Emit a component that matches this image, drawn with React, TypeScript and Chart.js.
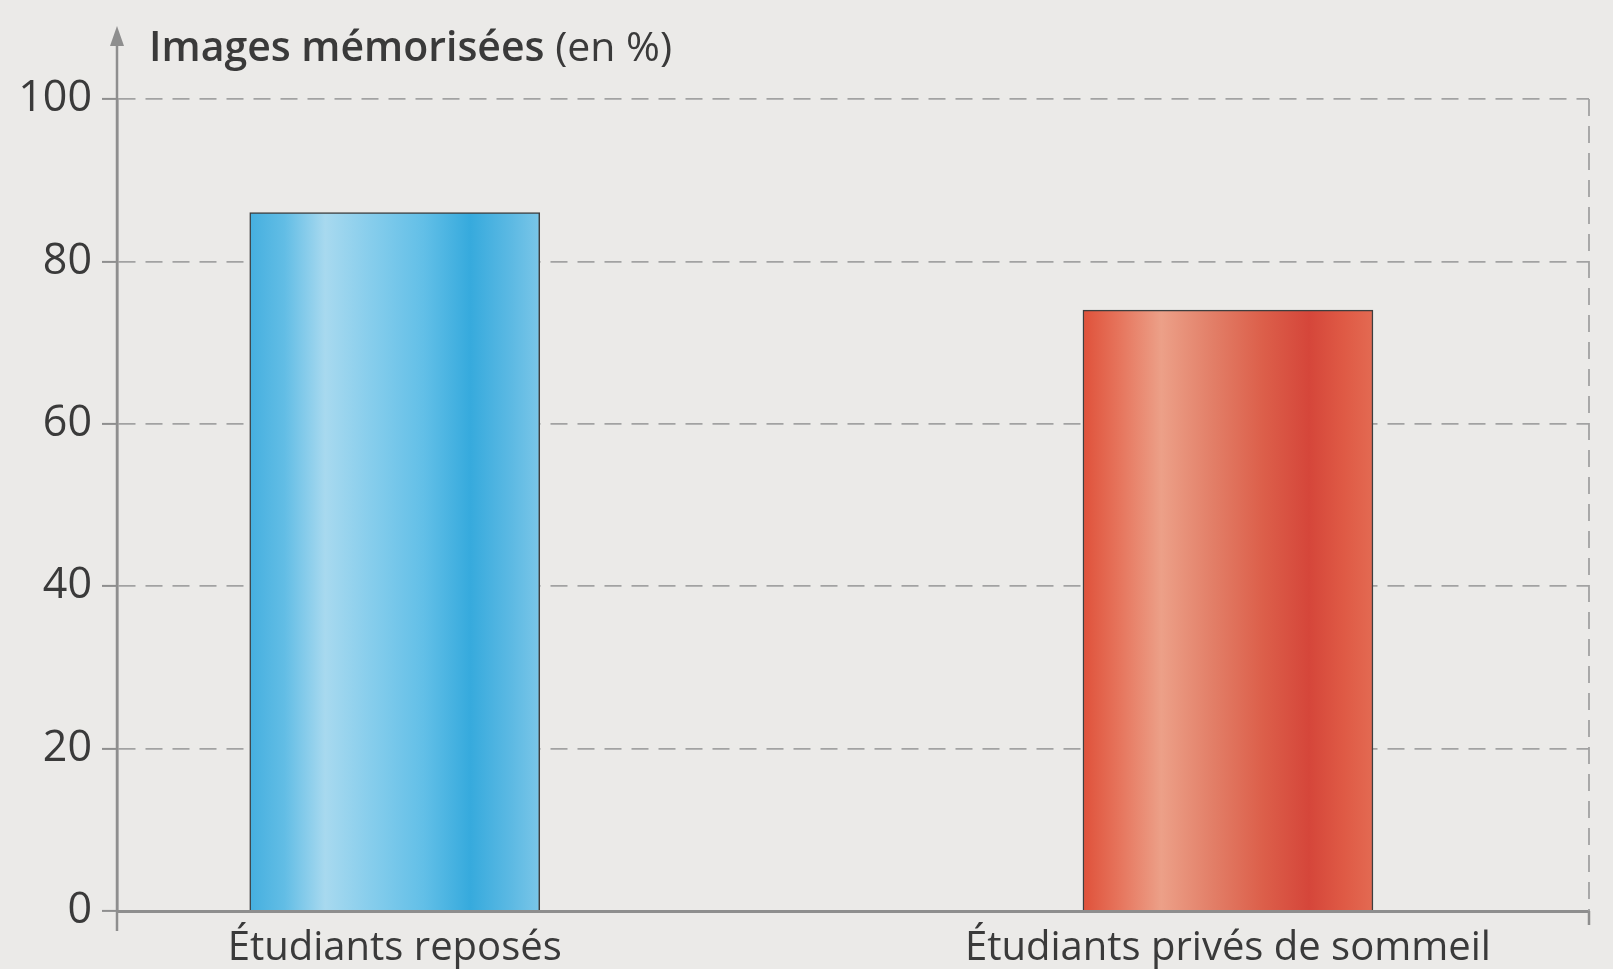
import React, { useEffect, useRef } from "react";
import { Chart, registerables } from "chart.js";

Chart.register(...registerables);

const CATEGORIES = ["Étudiants reposés", "Étudiants privés de sommeil"];
const CATEGORY_X = [1, 4];
const VALUES = [86, 74];
const Y_TICKS = [0, 20, 40, 60, 80, 100];
const TITLE_BOLD = "Images mémorisées";
const TITLE_REST = " (en %)";

const FONT = '"Open Sans", "Noto Sans", sans-serif';
const TEXT = "#3a3a3a";
const AXIS = "#8e8e8e";
const GRID = "#a2a2a2";
const BG = "#ebeae8";

const BLUE_STOPS: [number, string][] = [
  [0, "#45afdf"],
  [0.12, "#62bde5"],
  [0.26, "#a8d9ef"],
  [0.42, "#86cdec"],
  [0.6, "#62bfe7"],
  [0.76, "#36aadd"],
  [0.9, "#5cb9e3"],
  [1, "#7ac6e8"],
];
const RED_STOPS: [number, string][] = [
  [0, "#df513a"],
  [0.12, "#e6735b"],
  [0.27, "#eca088"],
  [0.45, "#e27e67"],
  [0.62, "#dc5f4a"],
  [0.78, "#d5463a"],
  [0.9, "#df5a45"],
  [1, "#e36a52"],
];
const BAR_STOPS = [BLUE_STOPS, RED_STOPS];
const BAR_WIDTH = 290;

function barFill(context: any) {
  const chart = context.chart;
  const xs = chart.scales && chart.scales.x;
  const i = context.dataIndex ?? 0;
  const stops = BAR_STOPS[i % BAR_STOPS.length];
  if (!xs || !chart.chartArea) return stops[0][1];
  const cx = xs.getPixelForValue(CATEGORY_X[i]);
  const g = chart.ctx.createLinearGradient(cx - BAR_WIDTH / 2, 0, cx + BAR_WIDTH / 2, 0);
  stops.forEach(([o, c]) => g.addColorStop(o, c));
  return g;
}

const decorPlugin = {
  id: "decor",
  afterDraw(chart: any) {
    const { ctx, chartArea } = chart;
    const { left, right, top, bottom } = chartArea;
    ctx.save();
    // y axis extension + arrow
    ctx.strokeStyle = AXIS;
    ctx.lineWidth = 2.5;
    ctx.beginPath();
    ctx.moveTo(left, 42);
    ctx.lineTo(left, bottom + 20);
    ctx.stroke();
    ctx.fillStyle = AXIS;
    ctx.beginPath();
    ctx.moveTo(left, 26);
    ctx.lineTo(left - 7, 46);
    ctx.lineTo(left + 7, 46);
    ctx.closePath();
    ctx.fill();
    // right dashed border
    ctx.strokeStyle = GRID;
    ctx.lineWidth = 1.8;
    ctx.setLineDash([17, 10]);
    ctx.beginPath();
    ctx.moveTo(right, top);
    ctx.lineTo(right, bottom);
    ctx.stroke();
    ctx.setLineDash([]);
    // right end tick of x axis
    ctx.strokeStyle = AXIS;
    ctx.lineWidth = 2.5;
    ctx.beginPath();
    ctx.moveTo(right, bottom);
    ctx.lineTo(right, bottom + 14);
    ctx.stroke();
    // title
    ctx.fillStyle = TEXT;
    ctx.textBaseline = "middle";
    ctx.textAlign = "left";
    ctx.font = `600 41px ${FONT}`;
    const x0 = 149;
    const y0 = 49;
    ctx.fillText(TITLE_BOLD, x0, y0);
    const w = ctx.measureText(TITLE_BOLD).width;
    ctx.font = `41px ${FONT}`;
    ctx.fillText(TITLE_REST, x0 + w, y0);
    ctx.restore();
  },
};

export default function App() {
  const ref = useRef<HTMLCanvasElement | null>(null);
  useEffect(() => {
    if (!ref.current) return;
    const chart = new Chart(ref.current, {
      type: "bar",
      data: {
        datasets: [
          {
            data: CATEGORIES.map((_, i) => ({ x: CATEGORY_X[i], y: VALUES[i] })),
            backgroundColor: barFill as any,
            borderColor: "#3e3e3e",
            borderWidth: 1.5,
            barThickness: BAR_WIDTH,
          },
        ],
      },
      options: {
        animation: false,
        responsive: true,
        maintainAspectRatio: false,
        layout: { padding: { top: 99, right: 24, left: 0, bottom: 0 } },
        plugins: { legend: { display: false }, tooltip: { enabled: false }, title: { display: false } },
        scales: {
          x: {
            type: "linear",
            min: 0,
            max: 5.3,
            offset: false,
            z: 1,
            grid: { display: false, drawTicks: false, offset: false },
            border: { display: true, color: AXIS, width: 3 },
            afterBuildTicks: (scale: any) => {
              scale.ticks = CATEGORY_X.map((v) => ({ value: v }));
            },
            afterFit: (scale: any) => {
              scale.height = 58;
            },
            ticks: {
              autoSkip: false,
              maxRotation: 0,
              padding: 14,
              color: TEXT,
              font: { family: FONT, size: 40 },
              callback: (v: any) => {
                const i = CATEGORY_X.indexOf(Number(v));
                return i >= 0 ? CATEGORIES[i] : "";
              },
            },
          },
          y: {
            min: Y_TICKS[0],
            max: Y_TICKS[Y_TICKS.length - 1],
            afterBuildTicks: (scale: any) => {
              scale.ticks = Y_TICKS.map((v) => ({ value: v }));
            },
            afterFit: (scale: any) => {
              scale.width = 117;
            },
            grid: {
              color: GRID,
              lineWidth: 1.8,
              drawTicks: true,
              tickLength: 15,
              tickColor: AXIS,
              tickWidth: 2,
              tickBorderDash: [],
            },
            border: { display: true, color: AXIS, width: 2.5, dash: [17, 10] },
            ticks: {
              padding: 10,
              color: TEXT,
              font: { family: FONT, size: 43 },
            },
          },
        },
      },
      plugins: [decorPlugin],
    });
    return () => chart.destroy();
  }, []);
  return (
    <div style={{ position: "fixed", left: 0, top: 0, width: 1613, height: 969, background: BG }}>
      <canvas ref={ref} />
    </div>
  );
}
